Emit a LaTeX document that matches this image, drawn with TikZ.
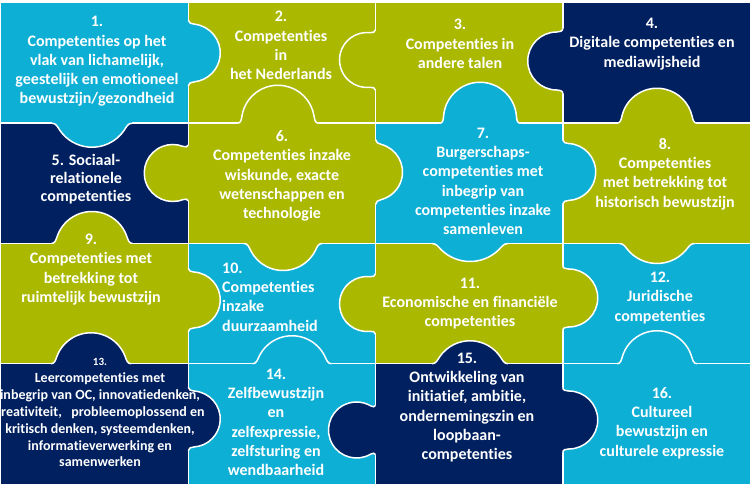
\documentclass[tikz,border=0pt]{standalone}
\usepackage{fontspec}
\setmainfont{Carlito}[Ligatures=NoCommon]
\usetikzlibrary{calc}
\definecolor{puzblue}{HTML}{0DAFD5}
\definecolor{puzgreen}{HTML}{AAB800}
\definecolor{puznavy}{HTML}{002060}
\tikzset{
  % stukken
  seam/.style={draw=white,line width=1.5pt},
  lbl/.style={text=white,font=\bfseries\fontsize{16}{19.3}\selectfont,
              align=center,inner sep=0pt},
  lblsmall/.style={lbl,font=\bfseries\fontsize{14}{16.8}\selectfont},
  lblnum/.style={lbl,font=\bfseries\fontsize{11}{13}\selectfont},
}
\newcommand{\textXIII}{Leercompetenties met\\inbegrip van OC, innovatiedenken,\\
  creativiteit,\ \ \ probleemoplossend en\\kritisch denken, systeemdenken,\\
  informatieverwerking en\\samenwerken}
% knop: x, y, richting, breedte, hoogte, kleur, extra inhoud
\newcommand{\knob}[7]{%
  \begin{scope}[shift={(#1,#2)},rotate=#3]
    \pgfmathsetmacro\knobR{(#5>=#4/2) ? #4/2 : (#4*#4/4+#5*#5)/(2*#5)}
    \pgfmathsetmacro\knobD{#5-\knobR}
    \pgfmathsetmacro\knobAl{asin(\knobD/\knobR)}
    \pgfmathsetmacro\knobA{\knobR*cos(\knobAl)+4}
    \pgfmathsetmacro\knobS{180+\knobAl-12}
    \pgfmathsetmacro\knobE{-\knobAl+12}
    \pgfmathsetmacro\knobIn{\knobS+90}
    \pgfmathsetmacro\knobOut{\knobE-90}
    \def\knobpath{(-\knobA,0) to[out=0,in=\knobIn] ([shift={(0,\knobD)}]\knobS:\knobR)
      arc[start angle=\knobS,end angle=\knobE,radius=\knobR pt]
      to[out=\knobOut,in=180] (\knobA,0)}
    \fill[#6] (-\knobA,-1.2) -- \knobpath -- (\knobA,-1.2) -- cycle;
    \begin{scope}
      \clip (-\knobA,-1.2) -- \knobpath -- (\knobA,-1.2) -- cycle;
      #7
    \end{scope}
    \draw[seam] \knobpath;
  \end{scope}}

\begin{document}
\begin{tikzpicture}[x=1pt,y=1pt]
\useasboundingbox (0,0) rectangle (752,487);
\clip (0,0) rectangle (752,487);
% vlakken
\foreach \c/\r/\k in {0/0/puzblue,1/0/puzgreen,2/0/puzgreen,3/0/puznavy,
    0/1/puznavy,1/1/puzgreen,2/1/puzblue,3/1/puzgreen,
    0/2/puzgreen,1/2/puzblue,2/2/puzgreen,3/2/puzblue,
    0/3/puznavy,1/3/puzblue,2/3/puznavy,3/3/puzblue}
  \fill[\k] (1+187.25*\c,484-120.25*\r) rectangle ++(187.25,-120.25);
\foreach \x in {188.25,375.5,562.75} \draw[seam] (\x,3) -- (\x,484);
\foreach \y in {363.75,243.5,123.25} \draw[seam] (1,\y) -- (750,\y);
\coordinate (p13) at (100,67);
% knoppen naar rechts
\knob{188.25}{434}{-90}{58}{32}{puzblue}{}
\knob{188.25}{187}{-90}{56}{32}{puzgreen}{}
\knob{188.25}{68}{-90}{56}{32}{puznavy}{\node[lblsmall] (t13k) at (p13) {\textXIII};}
\knob{375.5}{315}{-90}{57}{27}{puzgreen}{}
\knob{562.75}{315}{-90}{57}{33}{puzblue}{}
\knob{562.75}{189}{-90}{58}{35}{puzgreen}{}
\knob{562.75}{67}{-90}{58}{35}{puznavy}{}
% naar links
\knob{188.25}{314}{90}{57}{44}{puzgreen}{}
\knob{375.5}{427}{90}{55}{36}{puzgreen}{}
\knob{375.5}{183}{90}{55}{36}{puzgreen}{}
\knob{375.5}{57}{90}{56}{47}{puznavy}{}
\knob{562.75}{426}{90}{58}{35}{puznavy}{}
% naar beneden
\knob{92}{363.75}{180}{72}{24}{puzblue}{}
\knob{283}{243.5}{180}{70}{27}{puzgreen}{}
\knob{470}{243.5}{180}{68}{18}{puzblue}{}
\knob{657}{243.5}{180}{67}{20}{puzgreen}{}
% naar boven
\knob{278}{363.75}{0}{73}{38}{puzgreen}{}
\knob{480}{363.75}{0}{73}{41}{puzblue}{}
\knob{657}{363.75}{0}{72}{35}{puzgreen}{}
\knob{92}{243.5}{0}{73}{32}{puzgreen}{}
\knob{91}{123.25}{0}{72}{31}{puznavy}{}
\knob{292}{123.25}{0}{71}{28}{puzblue}{}
\knob{470}{123.25}{0}{68}{23}{puznavy}{}
\knob{657}{123.25}{0}{72}{33}{puzblue}{}
% teksten
\node[lbl] (t1) at (97,425.5) {1.\\Competenties op het\\vlak van lichamelijk,\\
  geestelijk en emotioneel\\bewustzijn/gezondheid};
\node[lbl] (t2) at (281,441.5) {2.\\Competenties\\in\\het Nederlands};
\node[lbl] (t3) at (460,443) {3.\\Competenties in\\andere talen};
\node[lbl] (t4) at (652,443) {4.\\Digitale competenties en\\mediawijsheid};
\node[lbl,font=\bfseries\fontsize{16}{18}\selectfont] (t5) at (86,308)
  {5. Sociaal-\\relationele\\competenties};
\node[lbl] (t6) at (282,311) {6.\\Competenties inzake\\wiskunde, exacte\\
  wetenschappen en\\technologie};
\node[lbl] (t7) at (483,305.5) {7.\\Burgerschaps-\\competenties met\\inbegrip van\\
  competenties inzake\\samenleven};
\node[lbl] (t8) at (665,313) {8.\\Competenties\\met betrekking tot\\historisch bewustzijn};
\node[lbl] (t9) at (91,217.5) {9.\\Competenties met\\betrekking tot\\ruimtelijk bewustzijn};
\node[lbl,align=left,anchor=west] (t10) at (222,190) {10.\\Competenties\\inzake\\duurzaamheid};
\node[lbl] (t11) at (470,183.5) {11.\\Economische en financiële\\competenties};
\node[lbl] (t12) at (660,189) {12.\\Juridische\\competenties};
\begin{scope}
  \clip (1,3) rectangle (188.25,123.25);
  \node[lblsmall] (t13) at (p13) {\textXIII};
\end{scope}
\node[lblnum] (t13n) at (100,125) {13.};
\node[lbl] (t14) at (276,64.5) {14.\\Zelfbewustzijn\\en\\zelfexpressie,\\
  zelfsturing en\\wendbaarheid};
\node[lbl] (t15) at (467,79.5) {15.\\Ontwikkeling van\\initiatief, ambitie,\\
  ondernemingszin en\\loopbaan-\\competenties};
\node[lbl] (t16) at (662,64) {16.\\Cultureel\\bewustzijn en\\culturele expressie};
\end{tikzpicture}
\end{document}
